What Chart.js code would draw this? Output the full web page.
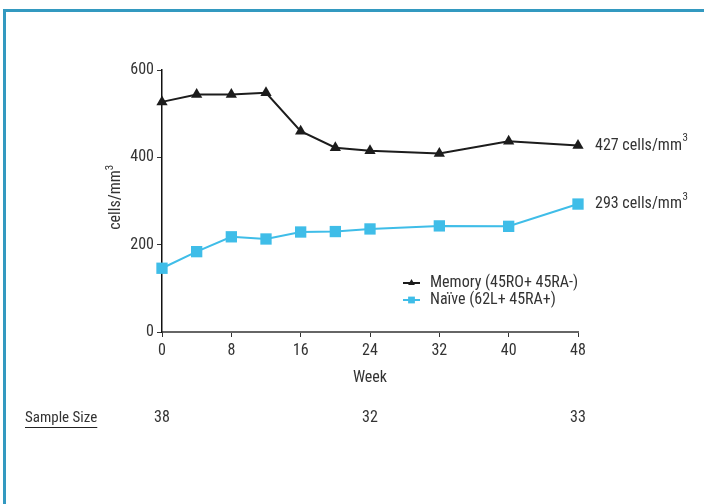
<!DOCTYPE html>
<html>
<head>
<meta charset="utf-8">
<script src="https://cdn.jsdelivr.net/npm/chart.js@4.4.0/dist/chart.umd.min.js"></script>
<style>
    html, body { margin: 0; padding: 0; background: #fff; overflow: hidden; }
    #frame {
        position: absolute; left: 3px; top: 9px; width: 760px; height: 560px;
        border-left: 3px solid #3399c0; border-top: 3px solid #3399c0;
    }
    #chart { position: absolute; left: 0; top: 0; }
</style>
</head>
<body>
<div id="frame"></div>
<canvas id="chart" width="704" height="504"></canvas>
<script>
const weeks = [0, 4, 8, 12, 16, 20, 24, 32, 40, 48];
const memoryCells = [527, 544, 544, 548, 460, 422, 415, 409, 437, 427];
const naiveCells = [146, 184, 218, 213, 229, 230, 236, 243, 242, 293];
const seriesLabels = ['Memory (45RO+ 45RA-)', 'Na\u00efve (62L+ 45RA+)'];
const endLabels = ['427 cells/mm', '293 cells/mm'];
const sampleWeeks = [0, 24, 48];
const sampleSizes = [38, 32, 33];

const FONT = "'Liberation Sans Narrow', 'Roboto Condensed', 'Liberation Sans', sans-serif";
const TEXT = '#333';

// extra text: axis titles, legend, end labels, sample size row
const annotations = {
    id: 'annotations',
    afterDraw(chart) {
        const ctx = chart.ctx;
        const x = chart.scales.x;
        const y = chart.scales.y;
        const area = chart.chartArea;
        ctx.save();
        ctx.fillStyle = TEXT;
        ctx.font = `16px ${FONT}`;
        ctx.textBaseline = 'middle';

        // y title (rotated) with superscript
        ctx.save();
        ctx.translate(116, 197);
        ctx.rotate(-Math.PI / 2);
        ctx.textAlign = 'left';
        const base = 'cells/mm';
        const w = ctx.measureText(base).width;
        ctx.fillText(base, -w / 2 - 3, 0);
        ctx.font = `11px ${FONT}`;
        ctx.fillText('3', w / 2 - 3, -6);
        ctx.restore();

        // x title
        ctx.textAlign = 'center';
        ctx.fillText('Week', (area.left + area.right) / 2, 378);

        // legend
        chart.data.datasets.forEach((ds, i) => {
            const ly = 283 + i * 17;
            ctx.strokeStyle = ds.borderColor;
            ctx.lineWidth = 2;
            ctx.beginPath();
            ctx.moveTo(403, ly);
            ctx.lineTo(420, ly);
            ctx.stroke();
            ctx.fillStyle = ds.borderColor;
            Chart.helpers.drawPoint(ctx, { pointStyle: ds.pointStyle, radius: ds.pointRadius * 0.6, borderWidth: 0 }, 411.5, ly);
            ctx.fillStyle = TEXT;
            ctx.textAlign = 'left';
            ctx.font = `16px ${FONT}`;
            ctx.fillText(ds.label, 430, ly);
        });

        // end labels
        chart.data.datasets.forEach((ds, i) => {
            const last = ds.data[ds.data.length - 1];
            const py = y.getPixelForValue(last.y);
            ctx.font = `16px ${FONT}`;
            ctx.textAlign = 'left';
            ctx.fillText(endLabels[i], 595, py);
            const tw = ctx.measureText(endLabels[i]).width;
            ctx.font = `11px ${FONT}`;
            ctx.fillText('3', 595 + tw + 0.5, py - 7);
        });

        // sample size row
        ctx.font = `15px ${FONT}`;
        ctx.textAlign = 'left';
        ctx.fillText('Sample Size', 25, 418);
        const sw = ctx.measureText('Sample Size').width;
        ctx.strokeStyle = '#222';
        ctx.lineWidth = 1;
        ctx.beginPath();
        ctx.moveTo(25, 427.5);
        ctx.lineTo(25 + sw, 427.5);
        ctx.stroke();
        ctx.textAlign = 'center';
        ctx.font = `16px ${FONT}`;
        sampleWeeks.forEach((wk, i) => {
            ctx.fillText(String(sampleSizes[i]), x.getPixelForValue(wk), 418);
        });
        ctx.restore();
    }
};

new Chart(document.getElementById('chart'), {
    type: 'line',
    data: {
        datasets: [
            {
                label: seriesLabels[0],
                data: weeks.map((wk, i) => ({ x: wk, y: memoryCells[i] })),
                borderColor: '#1c1c1c',
                backgroundColor: '#1c1c1c',
                borderWidth: 2,
                pointStyle: 'triangle',
                pointRadius: 6.5,
                pointBorderWidth: 0,
                tension: 0,
                clip: false
            },
            {
                label: seriesLabels[1],
                data: weeks.map((wk, i) => ({ x: wk, y: naiveCells[i] })),
                borderColor: '#3fbde8',
                backgroundColor: '#3fbde8',
                borderWidth: 2,
                pointStyle: 'rect',
                pointRadius: 8,
                pointBorderWidth: 0,
                tension: 0,
                clip: false
            }
        ]
    },
    options: {
        responsive: false,
        animation: false,
        layout: { padding: { left: 0, top: 70, right: 126, bottom: 0 } },
        plugins: {
            legend: { display: false },
            tooltip: { enabled: false }
        },
        scales: {
            x: {
                type: 'linear',
                min: 0,
                max: 48,
                afterFit: scale => { scale.height = 172; },
                border: { display: true, color: '#666', width: 2 },
                grid: { drawOnChartArea: false, drawTicks: true, tickLength: 5, color: '#333', lineWidth: 1 },
                ticks: { stepSize: 8, padding: 4, color: TEXT, font: { family: FONT, size: 16 } }
            },
            y: {
                min: 0,
                max: 600,
                afterFit: scale => { scale.width = 162; },
                border: { display: true, color: '#111', width: 1.5 },
                grid: { drawOnChartArea: false, drawTicks: true, tickLength: 5, color: '#333', lineWidth: 1 },
                ticks: { stepSize: 200, padding: 3, color: TEXT, font: { family: FONT, size: 16 } }
            }
        }
    },
    plugins: [annotations]
});
</script>
</body>
</html>
